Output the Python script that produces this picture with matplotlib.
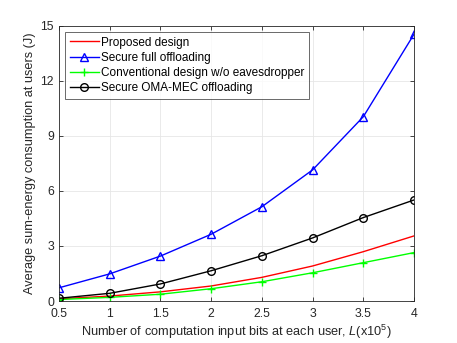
import matplotlib
matplotlib.use("Agg")
import matplotlib.pyplot as plt

# Number of input bits (x10^5)
L = [0.5, 1, 1.5, 2, 2.5, 3, 3.5, 4]

proposed = [0.12, 0.27, 0.50, 0.82, 1.29, 1.91, 2.69, 3.55]
full_offload = [0.72, 1.48, 2.45, 3.64, 5.14, 7.15, 10.05, 14.55]
conventional = [0.08, 0.20, 0.37, 0.67, 1.05, 1.54, 2.09, 2.64]
oma_mec = [0.15, 0.42, 0.93, 1.65, 2.47, 3.44, 4.55, 5.51]

labels = ["Proposed design", "Secure full offloading",
          "Conventional design w/o eavesdropper", "Secure OMA-MEC offloading"]

plt.rcParams['font.family'] = ['Liberation Sans', 'DejaVu Sans']
plt.rcParams['mathtext.fontset'] = 'custom'
plt.rcParams['mathtext.it'] = 'Liberation Sans:italic'
plt.rcParams['mathtext.rm'] = 'Liberation Sans'

fig = plt.figure(figsize=(4.57, 3.43), dpi=100)
ax = fig.add_axes([0.129, 0.1224, 0.777, 0.802])

lw = 1.0
ax.plot(L, proposed, color='#ff0000', lw=lw, label=labels[0])
ax.plot(L, full_offload, color='#0000ff', lw=lw, marker='^', ms=6,
        mfc='none', mew=1.0, label=labels[1])
ax.plot(L, conventional, color='#00ff00', lw=lw, marker='+', ms=6,
        mew=1.0, label=labels[2])
ax.plot(L, oma_mec, color='black', lw=lw, marker='o', ms=5.5,
        mfc='none', mew=1.0, label=labels[3])

ax.set_xlim(0.5, 4)
ax.set_ylim(0, 15)
ax.set_xticks(L)
ax.set_xticklabels(['0.5', '1', '1.5', '2', '2.5', '3', '3.5', '4'])
ax.set_yticks([0, 3, 6, 9, 12, 15])
ax.grid(True, color='#e6e6e6', lw=0.6)
ax.set_axisbelow(True)
ax.tick_params(direction='in', top=True, right=True, labelsize=8.8,
               colors='#262626', length=3, width=0.6)
ax.tick_params(axis='x', pad=5)
for s in ax.spines.values():
    s.set_color('#262626')
    s.set_linewidth(0.6)

ax.set_xlabel(r"Number of computation input bits at each user, $L$(x10$^{5}$)",
              fontsize=9.2, color='#262626', labelpad=2)
ax.set_ylabel("Average sum-energy consumption at users (J)",
              fontsize=9.2, color='#262626', labelpad=3)

leg = ax.legend(loc='upper left', fontsize=8.5, frameon=True, fancybox=False,
                edgecolor='#262626', handlelength=2.5, handletextpad=0.2,
                borderpad=0.35, labelspacing=0.28, borderaxespad=0.55)
leg.get_frame().set_linewidth(0.6)

fig.savefig("out.png", dpi=100)
